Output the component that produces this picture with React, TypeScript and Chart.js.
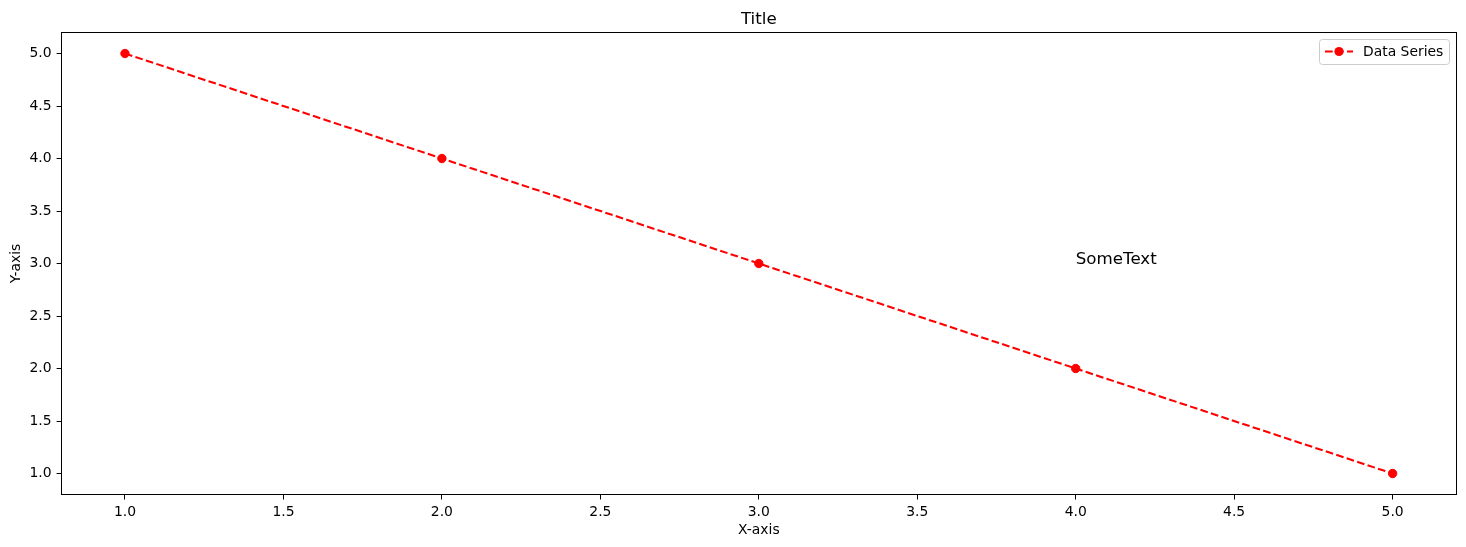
import React, { useEffect, useRef } from "react";
import { Chart, registerables } from "chart.js";

Chart.register(...registerables);

const xValues = [1, 2, 3, 4, 5];
const yValues = [5, 4, 3, 2, 1];
const xTicks = [1.0, 1.5, 2.0, 2.5, 3.0, 3.5, 4.0, 4.5, 5.0];
const yTicks = [1.0, 1.5, 2.0, 2.5, 3.0, 3.5, 4.0, 4.5, 5.0];
const seriesLabel = "Data Series";
const titleText = "Title";
const xLabel = "X-axis";
const yLabel = "Y-axis";
const annotation = { x: 4, y: 3, text: "SomeText" };

const FONT = "'DejaVu Sans', sans-serif";
const RED = "#ff0000";
const DASH = [7.7, 3.3];

const overlayPlugin = {
  id: "overlay",
  afterDraw(chart: any) {
    const ctx = chart.ctx as CanvasRenderingContext2D;
    const area = chart.chartArea;
    const xs = chart.scales.x;
    const ys = chart.scales.y;
    ctx.save();
    // spines
    ctx.strokeStyle = "#000";
    ctx.lineWidth = 1;
    ctx.setLineDash([]);
    const L = Math.floor(area.left) + 0.5;
    const T = Math.floor(area.top) + 0.5;
    const R = Math.floor(area.right) + 0.5;
    const B = Math.floor(area.bottom) + 0.5;
    ctx.strokeRect(L, T, R - L, B - T);

    // title
    ctx.fillStyle = "#000";
    ctx.font = `16.7px ${FONT}`;
    ctx.textAlign = "center";
    ctx.textBaseline = "alphabetic";
    ctx.fillText(titleText, (area.left + area.right) / 2, 23.5);

    // axis labels
    ctx.font = `13.9px ${FONT}`;
    ctx.textBaseline = "top";
    ctx.fillText(xLabel, (area.left + area.right) / 2, 523);
    ctx.save();
    ctx.translate(16, (area.top + area.bottom) / 2);
    ctx.rotate(-Math.PI / 2);
    ctx.textBaseline = "middle";
    ctx.fillText(yLabel, 0, 0);
    ctx.restore();

    // annotation
    ctx.font = `16.7px ${FONT}`;
    ctx.textAlign = "left";
    ctx.textBaseline = "alphabetic";
    ctx.fillText(annotation.text, xs.getPixelForValue(annotation.x), ys.getPixelForValue(annotation.y));

    // legend
    const lx = 1319.5, ly = 39.5, lw = 130, lh = 25, r = 3;
    ctx.beginPath();
    ctx.moveTo(lx + r, ly);
    ctx.lineTo(lx + lw - r, ly);
    ctx.arcTo(lx + lw, ly, lx + lw, ly + r, r);
    ctx.lineTo(lx + lw, ly + lh - r);
    ctx.arcTo(lx + lw, ly + lh, lx + lw - r, ly + lh, r);
    ctx.lineTo(lx + r, ly + lh);
    ctx.arcTo(lx, ly + lh, lx, ly + lh - r, r);
    ctx.lineTo(lx, ly + r);
    ctx.arcTo(lx, ly, lx + r, ly, r);
    ctx.closePath();
    ctx.fillStyle = "rgba(255,255,255,0.8)";
    ctx.fill();
    ctx.strokeStyle = "#cccccc";
    ctx.lineWidth = 1;
    ctx.stroke();

    const cy = 51.5;
    ctx.strokeStyle = RED;
    ctx.lineWidth = 2.08;
    ctx.setLineDash(DASH);
    ctx.beginPath();
    ctx.moveTo(1325, cy);
    ctx.lineTo(1353, cy);
    ctx.stroke();
    ctx.setLineDash([]);
    ctx.beginPath();
    ctx.arc(1339, cy, 4.6, 0, Math.PI * 2);
    ctx.fillStyle = RED;
    ctx.fill();

    ctx.fillStyle = "#000";
    ctx.font = `13.9px ${FONT}`;
    ctx.textBaseline = "middle";
    ctx.fillText(seriesLabel, 1363, cy + 0.5);
    ctx.restore();
  },
};

export default function App() {
  const ref = useRef<HTMLCanvasElement>(null);
  useEffect(() => {
    if (!ref.current) return;
    const chart = new Chart(ref.current, {
      type: "scatter",
      data: {
        datasets: [
          {
            label: seriesLabel,
            data: xValues.map((x, i) => ({ x, y: yValues[i] })),
            showLine: true,
            borderColor: RED,
            backgroundColor: RED,
            borderWidth: 2.08,
            borderDash: DASH,
            pointRadius: 4.2,
            pointBorderWidth: 1,
            pointBorderColor: RED,
            pointBackgroundColor: RED,
            tension: 0,
          } as any,
        ],
      },
      options: {
        animation: false,
        responsive: false,
        devicePixelRatio: 1,
        layout: { padding: { left: 0, top: 32.5, right: 10, bottom: 0 } },
        plugins: {
          legend: { display: false },
          title: { display: false },
          tooltip: { enabled: false },
        },
        scales: {
          x: {
            type: "linear",
            min: 0.8,
            max: 5.2,
            afterBuildTicks: (s: any) => {
              s.ticks = xTicks.map((v) => ({ value: v }));
            },
            afterFit: (s: any) => {
              s.height = 52.5;
            },
            grid: { drawOnChartArea: false, drawTicks: true, tickLength: 5, color: "#000", lineWidth: 1 },
            border: { display: true, color: "#000", width: 1 },
            ticks: {
              color: "#000",
              padding: 5,
              maxRotation: 0,
              autoSkip: false,
              font: { family: FONT, size: 13.9 },
              callback: (v: any) => Number(v).toFixed(1),
            },
          },
          y: {
            type: "linear",
            min: 0.8,
            max: 5.2,
            afterBuildTicks: (s: any) => {
              s.ticks = yTicks.map((v) => ({ value: v }));
            },
            afterFit: (s: any) => {
              s.width = 61.6;
            },
            grid: { drawOnChartArea: false, drawTicks: true, tickLength: 5, color: "#000", lineWidth: 1 },
            border: { display: true, color: "#000", width: 1 },
            ticks: {
              color: "#000",
              padding: 5,
              autoSkip: false,
              font: { family: FONT, size: 13.9 },
              callback: (v: any) => Number(v).toFixed(1),
            },
          },
        },
      } as any,
      plugins: [overlayPlugin],
    });
    return () => chart.destroy();
  }, []);
  return (
    <canvas
      ref={ref}
      width={1466}
      height={547}
      style={{ position: "fixed", left: 0, top: 0, width: 1466, height: 547, background: "#fff" }}
    />
  );
}
